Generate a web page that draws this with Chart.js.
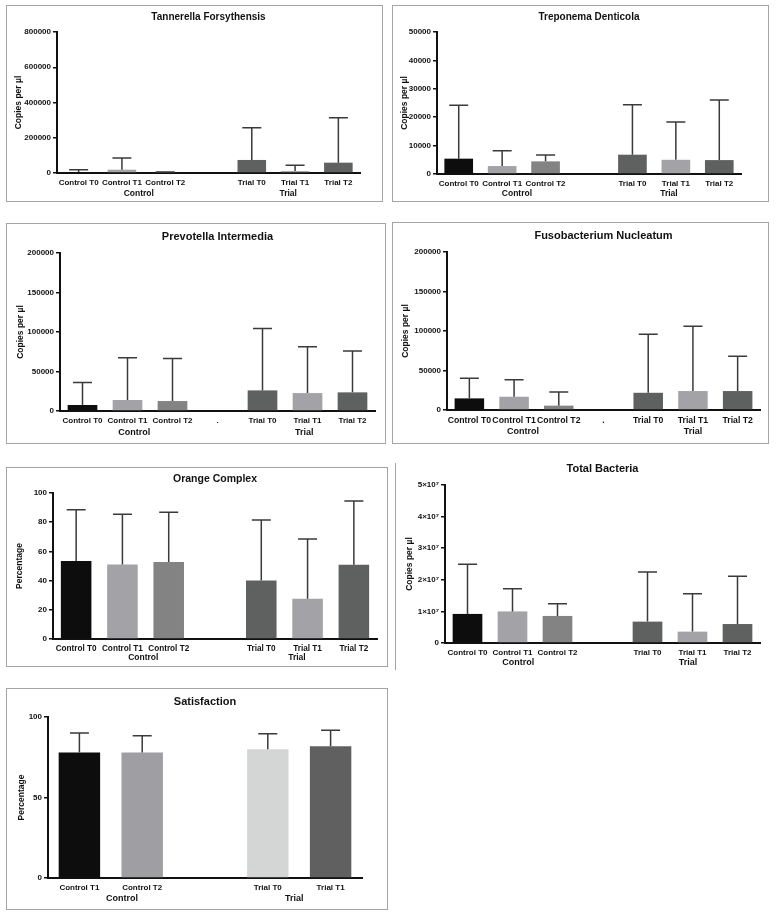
<!DOCTYPE html>
<html lang="en">
<head>
<meta charset="UTF-8">
<title>Bacteria counts, control vs trial</title>
<script src="https://cdn.jsdelivr.net/npm/chart.js"></script>
<style>
  body { margin: 0; background: #fff; }
  #page { position: relative; width: 776px; height: 916px; overflow: hidden; background: #fff; }
  .frame { position: absolute; box-sizing: border-box; border: 1.5px solid #a4a4a4; }
  .plot { position: absolute; }
</style>
</head>
<body>
<div id="page"></div>
<script>
// categories (the empty slot is the gap between the two groups)
const labelsFull = ['Control T0', 'Control T1', 'Control T2', '', 'Trial T0', 'Trial T1', 'Trial T2'];
const labelsDot = ['Control T0', 'Control T1', 'Control T2', '.', 'Trial T0', 'Trial T1', 'Trial T2'];
const labelsSatisfaction = ['Control T1', 'Control T2', '', 'Trial T0', 'Trial T1'];
const groupNames = ['Control', 'Trial'];

// means and SD (upper whisker)
const tannerellaMean = [5700, 18900, 4000, null, 74000, 11000, 58600];
const tannerellaSD = [13000, 66000, 1500, null, 183000, 32500, 255000];

const treponemaMean = [5400, 2800, 4450, null, 6800, 5000, 4900];
const treponemaSD = [18850, 5400, 2200, null, 17600, 13300, 21200];

const prevotellaMean = [7600, 13900, 12600, null, 26100, 22700, 23600];
const prevotellaSD = [28600, 53500, 53900, null, 78300, 58600, 52200];

const fusobacteriumMean = [14700, 16800, 5500, null, 21800, 24000, 24000];
const fusobacteriumSD = [25600, 21400, 17200, null, 74000, 81900, 44100];

const orangeMean = [53.4, 51.1, 52.7, null, 40.0, 27.6, 50.9];
const orangeSD = [35.2, 34.3, 34.1, null, 41.5, 40.9, 43.6];

const totalMean = [9200000, 10000000, 8560000, null, 6770000, 3600000, 6000000];
const totalSD = [15700000, 7200000, 3900000, null, 15700000, 12000000, 15100000];

const satisfactionMean = [78.0, 78.0, 80.0, 81.9];
const satisfactionSD = [12.0, 10.4, 9.6, 9.8];

const barColors = ['#0d0d0d', '#a3a2a6', '#838383', null, '#5f6161', '#a3a2a6', '#5f6161'];
const satColors = ['#0d0d0d', '#9f9ea2', null, '#d4d5d5', '#5f605f'];

Chart.defaults.font.family = '"Liberation Sans", Arial, Helvetica, sans-serif';
Chart.defaults.color = '#111';

const sciTick = v => v === 0 ? '0' : (v / 1e7) + '×10⁷';

// rect: [left, top, width, height] on the page; L/pr/top/zero are chart-area edges inside it
const panels = [
  { title: 'Tannerella Forsythensis', titleSize: 10, rect: [6, 5, 377, 197], frame: [6, 5, 377, 197],
    L: 51, pr: 23, titleC: 12, top: 27, zero: 168, yTitle: 'Copies per µl', yTitleC: 13,
    max: 800000, step: 200000, labels: labelsFull, mean: tannerellaMean, sd: tannerellaSD,
    colors: barColors, groupAt: [1.39, 4.84], groupDy: 21, tickSize: 8, groupSize: 8.5 },
  { title: 'Treponema Denticola', titleSize: 10, rect: [392, 5, 377, 197], frame: [392, 5, 377, 197],
    L: 45, pr: 28, titleC: 12, top: 27, zero: 169, yTitle: 'Copies per µl', yTitleC: 13,
    max: 50000, step: 10000, labels: labelsFull, mean: treponemaMean, sd: treponemaSD,
    colors: barColors, groupAt: [1.34, 4.84], groupDy: 20, tickSize: 8, groupSize: 8.5 },
  { title: 'Prevotella Intermedia', titleSize: 11, rect: [6, 223, 380, 221], frame: [6, 223, 380, 221],
    L: 54, pr: 11, titleC: 14, top: 30, zero: 188, yTitle: 'Copies per µl', yTitleC: 15,
    max: 200000, step: 50000, labels: labelsDot, mean: prevotellaMean, sd: prevotellaSD,
    colors: barColors, groupAt: [1.15, 4.93], groupDy: 22, tickSize: 8, groupSize: 9 },
  { title: 'Fusobacterium Nucleatum', titleSize: 11, rect: [392, 222, 377, 222], frame: [392, 222, 377, 222],
    L: 55, pr: 9, titleC: 14, top: 30, zero: 188, yTitle: 'Copies per µl', yTitleC: 14,
    max: 200000, step: 50000, labels: labelsDot, mean: fusobacteriumMean, sd: fusobacteriumSD,
    colors: barColors, groupAt: [1.2, 5.0], groupDy: 22, tickSize: 8.7, groupSize: 9 },
  { title: 'Orange Complex', titleSize: 10.5, rect: [6, 467, 382, 200], frame: [6, 467, 382, 200],
    L: 47, pr: 11, titleC: 12, top: 26, zero: 172, yTitle: 'Percentage', yTitleC: 14,
    max: 100, step: 20, labels: labelsFull, mean: orangeMean, sd: orangeSD,
    colors: barColors, groupAt: [1.45, 4.77], groupDy: 19, tickSize: 8.2, groupSize: 8.5 },
  { title: 'Total Bacteria', titleSize: 11, rect: [395, 458, 375, 215], frame: null,
    L: 50, pr: 10, titleC: 11, top: 27, zero: 185, yTitle: 'Copies per µl', yTitleC: 15,
    max: 50000000, step: 10000000, fmt: sciTick, labels: labelsFull, mean: totalMean, sd: totalSD,
    colors: barColors, groupAt: [1.13, 4.9], groupDy: 20, tickSize: 8, groupSize: 9 },
  { title: 'Satisfaction', titleSize: 11, rect: [6, 688, 382, 222], frame: [6, 688, 382, 222],
    L: 42, pr: 26, titleC: 14, top: 29, zero: 190, yTitle: 'Percentage', yTitleC: 16,
    max: 100, step: 50, labels: labelsSatisfaction,
    mean: [satisfactionMean[0], satisfactionMean[1], null, satisfactionMean[2], satisfactionMean[3]],
    sd: [satisfactionSD[0], satisfactionSD[1], null, satisfactionSD[2], satisfactionSD[3]],
    colors: satColors, groupAt: [0.68, 3.42], groupDy: 21, tickSize: 8, groupSize: 9 }
];

// upper SD whisker with a cap, drawn over each bar
const errorBars = {
  id: 'errorBars',
  afterDatasetsDraw(chart) {
    const ds = chart.data.datasets[0];
    const meta = chart.getDatasetMeta(0);
    const y = chart.scales.y;
    const ctx = chart.ctx;
    ctx.save();
    ctx.strokeStyle = '#3a3a3a';
    ctx.lineWidth = 1.5;
    meta.data.forEach((bar, i) => {
      const v = ds.data[i];
      if (v == null) return;
      const top = y.getPixelForValue(v + ds.sd[i]);
      ctx.beginPath();
      ctx.moveTo(bar.x, bar.y);
      ctx.lineTo(bar.x, top);
      ctx.moveTo(bar.x - 9.5, top);
      ctx.lineTo(bar.x + 9.5, top);
      ctx.stroke();
    });
    ctx.restore();
  }
};

const page = document.getElementById('page');

panels.forEach(p => {
  const [x0, y0, w, h] = p.rect;
  if (p.frame) {
    const f = document.createElement('div');
    f.className = 'frame';
    Object.assign(f.style, { left: p.frame[0] + 'px', top: p.frame[1] + 'px', width: p.frame[2] + 'px', height: p.frame[3] + 'px' });
    page.appendChild(f);
  }
  const wrap = document.createElement('div');
  wrap.className = 'plot';
  Object.assign(wrap.style, { left: x0 + 'px', top: y0 + 'px', width: w + 'px', height: h + 'px' });
  const cv = document.createElement('canvas');
  wrap.appendChild(cv);
  page.appendChild(wrap);

  const titleLh = p.titleSize * 1.2;
  const groupLabels = {
    id: 'groupLabels',
    afterDraw(chart) {
      const { ctx, scales: { x } } = chart;
      ctx.save();
      ctx.font = 'bold ' + p.groupSize + 'px "Liberation Sans", Arial, sans-serif';
      ctx.fillStyle = '#111';
      ctx.textAlign = 'center';
      ctx.textBaseline = 'middle';
      groupNames.forEach((g, i) => ctx.fillText(g, x.getPixelForValue(p.groupAt[i]), chart.chartArea.bottom + p.groupDy));
      ctx.restore();
    }
  };

  new Chart(cv, {
    type: 'bar',
    data: {
      labels: p.labels,
      datasets: [{
        data: p.mean,
        sd: p.sd,
        backgroundColor: p.colors,
        borderWidth: 0,
        barPercentage: 0.66,
        categoryPercentage: 1
      }]
    },
    options: {
      responsive: true,
      maintainAspectRatio: false,
      animation: false,
      layout: { padding: { left: 0, right: p.pr, top: 0, bottom: 0 } },
      plugins: {
        legend: { display: false },
        tooltip: { enabled: false },
        title: {
          display: true,
          text: p.title,
          fullSize: false,
          color: '#111',
          font: { size: p.titleSize, weight: 'bold' },
          padding: { top: p.titleC - titleLh / 2, bottom: p.top - p.titleC - titleLh / 2 }
        }
      },
      scales: {
        x: {
          grid: { display: false, drawTicks: false },
          border: { display: true, color: '#111', width: 2 },
          ticks: {
            autoSkip: false, maxRotation: 0, minRotation: 0, padding: 5,
            color: '#111', font: { size: p.tickSize, weight: 'bold' }
          },
          afterFit: s => { s.height = h - p.zero; }
        },
        y: {
          min: 0,
          max: p.max,
          ticks: {
            stepSize: p.step, padding: 2, color: '#111',
            font: { size: 8, weight: 'bold' },
            callback: p.fmt || (v => v)
          },
          grid: { display: true, drawOnChartArea: false, drawTicks: true, tickLength: 4, color: '#111', lineWidth: 1.5 },
          border: { display: true, color: '#111', width: 2 },
          title: {
            display: true, text: p.yTitle, color: '#111',
            font: { size: 8.5, weight: 'bold' },
            padding: { top: p.yTitleC - 5.1, bottom: 0 }
          },
          afterFit: s => { s.width = p.L; }
        }
      }
    },
    plugins: [errorBars, groupLabels]
  });
});

// Total Bacteria panel has only a left rule
const rule = document.createElement('div');
Object.assign(rule.style, { position: 'absolute', left: '395px', top: '463px', width: '0', height: '207px', borderLeft: '1.5px solid #a4a4a4' });
page.appendChild(rule);
</script>
</body>
</html>
